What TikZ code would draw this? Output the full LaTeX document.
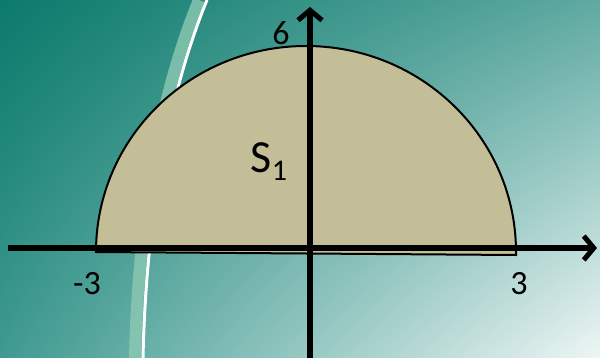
\documentclass[tikz,border=0pt]{standalone}
\usepackage{fontspec}
\setmainfont{Carlito}
\usepackage{tikz}
\usetikzlibrary{arrows.meta, positioning, calc, shadings}
\definecolor{tealdark}{HTML}{0B7A6C}
\definecolor{tealmid}{HTML}{3F9A90}
\definecolor{tealright}{HTML}{5FAAA2}
\definecolor{tealpale}{HTML}{EEF6F5}
\definecolor{streakgreen}{HTML}{8CC9B2}
\definecolor{regiontan}{HTML}{C4BE98}

\begin{document}
\begin{tikzpicture}[
                x=1pt, y=-1pt,
                axis/.style={line width=6pt, ->, >={Straight Barb[length=10pt, width=24pt, line width=5pt]}},
                region/.style={draw=black, line width=2pt, fill=regiontan},
                lbl/.style={inner sep=0pt, font=\fontsize{34}{34}\selectfont},
                streak/.style={line width=3pt, white}
            ]%
            % Fondo
            \useasboundingbox (0,0) rectangle (600,358);
            \shade[upper left=tealdark, upper right=tealright, lower left=tealmid, lower right=tealpale] (0,0) rectangle (600,358);
            \begin{scope}
                \clip (0,0) rectangle (600,358);
                \draw[line width=12pt, streakgreen, opacity=0.8] (199,0) .. controls (160,95) and (138,220) .. (135,358);
                \draw[streak] (207,0) .. controls (168,95) and (146,220) .. (143,358);
            \end{scope}
            %
            % Region S1
            \draw[region] (96,252) arc[start angle=180, end angle=0, x radius=210pt, y radius=206pt] -- (516,255) -- cycle;
            %
            % Ejes
            \coordinate (xstart) at (8,248);
            \coordinate (xend) at (597,248);
            \coordinate (ystart) at (310,360);
            \coordinate (yend) at (310,7);
            \draw[axis] (xstart) -- (xend);
            \draw[axis] (ystart) -- (yend);
            %
            % Etiquetas
            \node[lbl] (lbl6) at (281,33) {6};
            \node[lbl] (lblm3) at (87,284) {-3};
            \node[lbl] (lbl3) at (519,284) {3};
            \node[lbl, font=\fontsize{46}{46}\selectfont] (lblS) at (269,162) {S\raisebox{-8pt}{\fontsize{30}{30}\selectfont 1}};
        \end{tikzpicture}
\end{document}
